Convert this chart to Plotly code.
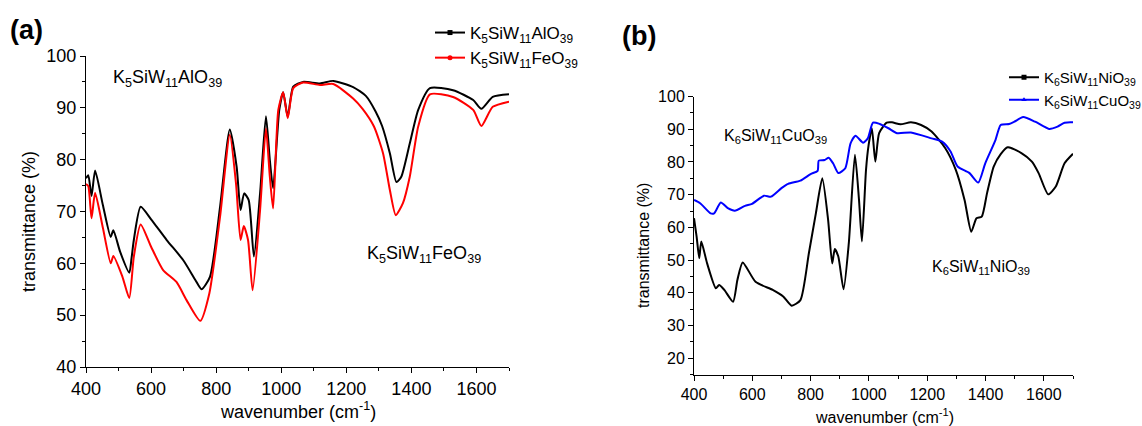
import plotly.graph_objects as go

# ---- (a) K5SiW11AlO39 / K5SiW11FeO39 ----
wn_alo = [400, 407, 417, 428, 452, 476, 484, 505, 533, 540, 547, 568, 600, 648, 699, 736,
          755, 781, 812, 842, 863, 875, 886, 900, 916, 935, 953, 965, 975, 994, 1006, 1020,
          1037, 1067, 1119, 1160, 1221, 1260, 1290, 1310, 1334, 1354, 1369, 1395, 1421,
          1457, 1528, 1590, 1615, 1650, 1700]
t_alo = [76.4, 77.0, 73.0, 77.9, 71.2, 65.1, 66.4, 62.2, 58.2, 61.0, 64.5, 70.9, 68.5, 64.5,
         60.6, 56.8, 55.0, 57.4, 70.9, 85.8, 78.6, 70.3, 73.5, 72.2, 61.3, 73.5, 88.4, 79.9,
         74.5, 89.6, 93.0, 88.3, 94.1, 95.0, 94.7, 95.2, 94.0, 92.3, 89.3, 86.5, 81.2, 75.7,
         76.7, 83.1, 89.6, 93.8, 93.4, 91.5, 89.8, 92.1, 92.6]

wn_feo = [400, 407, 417, 428, 452, 476, 484, 512, 533, 547, 568, 600, 637, 678, 709, 751,
          779, 812, 842, 861, 875, 885, 898, 912, 935, 953, 965, 975, 991, 1006, 1020, 1037,
          1067, 1119, 1160, 1221, 1250, 1285, 1313, 1334, 1352, 1374, 1395, 1421, 1457,
          1528, 1590, 1615, 1650, 1700]
t_feo = [75.3, 74.9, 68.7, 73.6, 66.8, 60.0, 61.4, 57.4, 53.3, 61.3, 67.5, 63.2, 58.7, 56.4,
         52.9, 48.9, 54.2, 69.0, 84.8, 75.4, 64.5, 67.2, 64.5, 54.8, 70.3, 86.0, 76.7, 70.6,
         89.6, 93.0, 88.0, 93.8, 94.9, 94.4, 94.6, 91.8, 89.8, 86.4, 81.2, 74.1, 69.3, 71.6,
         76.7, 86.4, 92.6, 92.1, 89.6, 86.5, 90.2, 91.2]

# ---- (b) K6SiW11NiO39 / K6SiW11CuO39 ----
wn_nio = [400, 409, 418, 425, 445, 475, 486, 504, 534, 549, 567, 611, 670, 706, 735, 765,
          794, 818, 840, 860, 874, 883, 895, 913, 931, 952, 966, 976, 990, 999, 1010, 1022,
          1035, 1061, 1079, 1108, 1144, 1179, 1215, 1262, 1298, 1328, 1351, 1369, 1387,
          1405, 1428, 1452, 1476, 1523, 1559, 1582, 1615, 1641, 1671, 1700]
t_nio = [62.8, 57.2, 50.6, 55.7, 49.0, 41.4, 42.4, 40.9, 37.3, 44.0, 49.3, 43.4, 40.9, 38.9,
         36.1, 37.8, 52.1, 64.3, 75.0, 62.3, 49.0, 53.4, 51.1, 41.1, 55.2, 82.2, 68.4, 55.7,
         77.6, 85.2, 90.3, 80.1, 88.8, 92.0, 92.1, 91.5, 92.1, 91.3, 89.3, 84.2, 77.6, 68.4,
         58.7, 62.8, 63.3, 70.4, 78.6, 82.4, 84.5, 82.7, 80.1, 76.6, 70.1, 72.5, 79.6, 82.5]

wn_cuo = [400, 421, 457, 469, 492, 516, 540, 575, 599, 640, 664, 700, 723, 765, 800, 824,
          828, 848, 862, 877, 895, 919, 937, 954, 980, 996, 1014, 1037, 1067, 1097, 1144,
          1215, 1251, 1280, 1304, 1345, 1375, 1399, 1434, 1452, 1481, 1499, 1529, 1570,
          1618, 1647, 1671, 1700]
t_cuo = [68.4, 67.4, 64.3, 64.3, 67.6, 65.9, 65.1, 66.6, 67.2, 69.7, 69.4, 72.0, 73.3, 74.3,
         76.3, 77.3, 80.4, 80.6, 81.3, 79.6, 76.6, 78.1, 85.7, 88.0, 85.9, 87.2, 92.0, 91.6,
         90.3, 88.8, 89.0, 87.2, 86.2, 83.2, 78.6, 76.6, 73.7, 79.6, 86.7, 91.3, 91.6, 92.3,
         93.7, 92.3, 90.1, 90.8, 92.0, 92.1]

name_alo = "K<sub>5</sub>SiW<sub>11</sub>AlO<sub>39</sub>"
name_feo = "K<sub>5</sub>SiW<sub>11</sub>FeO<sub>39</sub>"
name_nio = "K<sub>6</sub>SiW<sub>11</sub>NiO<sub>39</sub>"
name_cuo = "K<sub>6</sub>SiW<sub>11</sub>CuO<sub>39</sub>"

FONT = "Liberation Sans, Arial, sans-serif"
W, H = 1142, 426

fig = go.Figure()

series = [
    (wn_alo, t_alo, name_alo, "#000000", "square", "x", "y", "legend"),
    (wn_feo, t_feo, name_feo, "#ff0000", "circle", "x", "y", "legend"),
    (wn_nio, t_nio, name_nio, "#000000", "square", "x2", "y2", "legend2"),
    (wn_cuo, t_cuo, name_cuo, "#0000ff", "triangle-up", "x2", "y2", "legend2"),
]
for wn, t, name, color, sym, xa, ya, lg in series:
    fig.add_trace(go.Scatter(x=wn, y=t, mode="lines", name=name, xaxis=xa, yaxis=ya,
                             line=dict(color=color, width=2, shape="spline", smoothing=0.6),
                             showlegend=False, legendgroup=name))
    # legend entry (line with a small symbol)
    fig.add_trace(go.Scatter(x=[None], y=[None], mode="lines+markers", name=name,
                             xaxis=xa, yaxis=ya, legend=lg, legendgroup=name,
                             line=dict(color=color, width=2),
                             marker=dict(color=color, symbol=sym, size=5)))

def px_x(p):
    return p / W

def px_y(p):
    return 1 - p / H

axis_common = dict(showline=True, linecolor="black", linewidth=1, ticks="outside",
                   ticklen=5, tickcolor="black", showgrid=False, zeroline=False,
                   mirror=False, automargin=False)

fig.update_layout(
    width=W, height=H,
    margin=dict(l=0, r=0, t=0, b=0, autoexpand=False),
    paper_bgcolor="white", plot_bgcolor="white",
    font=dict(family=FONT, color="black"),
    xaxis=dict(domain=[px_x(86), px_x(509)], range=[400, 1700], dtick=200, tick0=400,
               anchor="y", tickfont=dict(size=18),
               minor=dict(ticks="outside", ticklen=3, dtick=100, tickcolor="black"),
               **axis_common),
    yaxis=dict(domain=[px_y(367), px_y(56)], range=[40, 100], dtick=10, tick0=40,
               anchor="x", tickfont=dict(size=18),
               minor=dict(ticks="outside", ticklen=3, dtick=5, tickcolor="black"),
               **axis_common),
    xaxis2=dict(domain=[px_x(694), px_x(1073)], range=[400, 1700], dtick=200, tick0=400,
                anchor="y2", tickfont=dict(size=16),
                minor=dict(ticks="outside", ticklen=3, dtick=100, tickcolor="black"),
                **axis_common),
    yaxis2=dict(domain=[px_y(374.7), px_y(96.5)], range=[15, 100], dtick=10, tick0=20,
                anchor="x2", tickfont=dict(size=16),
                minor=dict(ticks="outside", ticklen=3, dtick=5, tickcolor="black"),
                **axis_common),
    legend=dict(x=px_x(430), y=px_y(15), xanchor="left", yanchor="top",
                font=dict(size=17), bgcolor="rgba(0,0,0,0)", tracegroupgap=0),
    legend2=dict(x=px_x(1004), y=px_y(61), xanchor="left", yanchor="top",
                 font=dict(size=15), bgcolor="rgba(0,0,0,0)", tracegroupgap=0),
)

annotations = [
    # panel letters
    dict(text="<b>(a)</b>", x=px_x(8), y=px_y(30), xref="paper", yref="paper",
         xanchor="left", yanchor="middle", font=dict(size=27)),
    dict(text="<b>(b)</b>", x=px_x(620), y=px_y(36), xref="paper", yref="paper",
         xanchor="left", yanchor="middle", font=dict(size=27)),
    # axis titles
    dict(text="transmittance (%)", x=px_x(29), y=px_y(222), xref="paper", yref="paper",
         textangle=-90, xanchor="center", yanchor="middle", font=dict(size=18)),
    dict(text="wavenumber (cm<sup>-1</sup>)", x=px_x(298), y=px_y(410), xref="paper",
         yref="paper", xanchor="center", yanchor="middle", font=dict(size=18)),
    dict(text="transmittance (%)", x=px_x(643), y=px_y(246), xref="paper", yref="paper",
         textangle=-90, xanchor="center", yanchor="middle", font=dict(size=16)),
    dict(text="wavenumber (cm<sup>-1</sup>)", x=px_x(884), y=px_y(416), xref="paper",
         yref="paper", xanchor="center", yanchor="middle", font=dict(size=16)),
    # curve labels
    dict(text=name_alo, x=477, y=95.6, xref="x", yref="y", xanchor="left",
         yanchor="middle", font=dict(size=18)),
    dict(text=name_feo, x=1257, y=61.8, xref="x", yref="y", xanchor="left",
         yanchor="middle", font=dict(size=18)),
    dict(text=name_cuo, x=495, y=87.7, xref="x2", yref="y2", xanchor="left",
         yanchor="middle", font=dict(size=16)),
    dict(text=name_nio, x=1211, y=47.7, xref="x2", yref="y2", xanchor="left",
         yanchor="middle", font=dict(size=16)),
]
for a in annotations:
    a.setdefault("showarrow", False)
fig.update_layout(annotations=annotations)

fig.write_html("out.html")
